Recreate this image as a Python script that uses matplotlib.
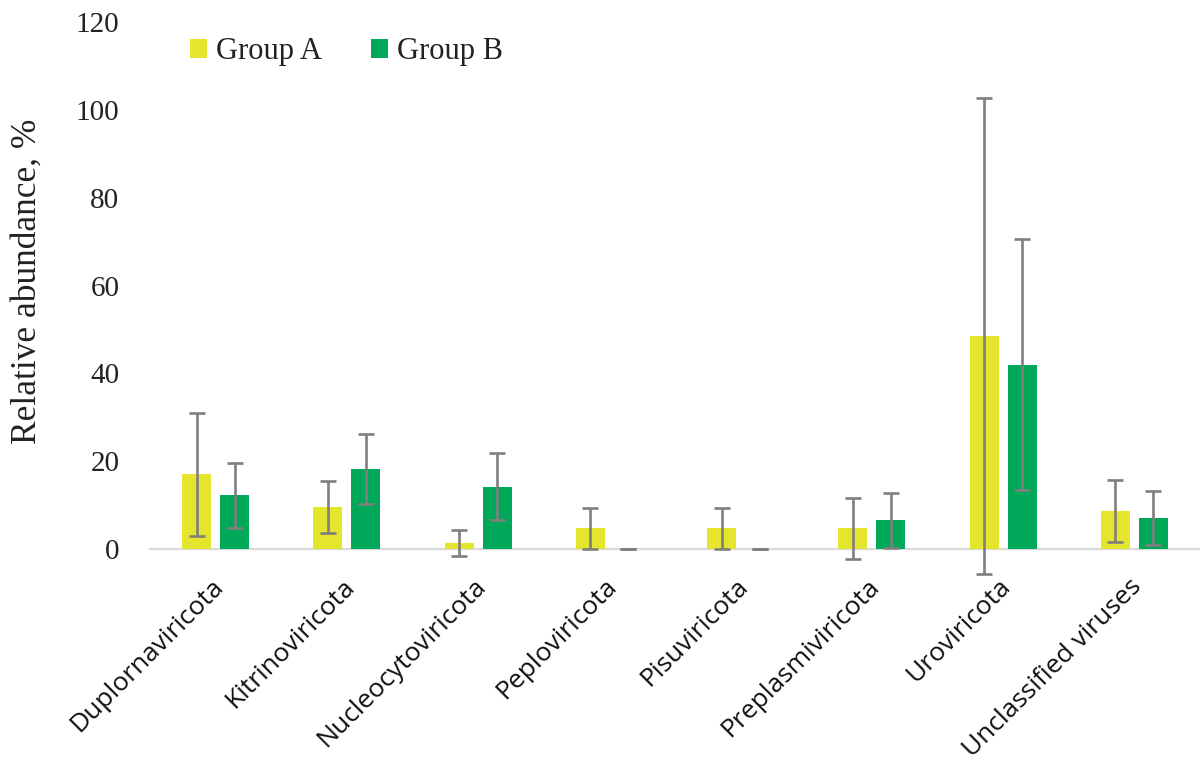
import matplotlib
matplotlib.use("Agg")
import matplotlib.pyplot as plt
import matplotlib.transforms as mtransforms
import numpy as np

phyla = ["Duplornaviricota", "Kitrinoviricota", "Nucleocytoviricota",
         "Peploviricota", "Pisuviricota", "Preplasmiviricota",
         "Uroviricota", "Unclassified viruses"]
group_a = [17.0, 9.6, 1.4, 4.7, 4.7, 4.7, 48.5, 8.7]
group_a_sd = [14.0, 6.0, 2.9, 4.6, 4.6, 7.0, 54.3, 7.0]
group_b = [12.2, 18.2, 14.2, 0.0, 0.0, 6.5, 42.0, 7.1]
group_b_sd = [7.4, 8.0, 7.6, 0.0, 0.0, 6.2, 28.6, 6.1]

YELLOW = "#E5E52D"
GREEN = "#00A859"
ERR = "#7F7F7F"
TXT = "#222222"

fig = plt.figure(figsize=(12, 7.6), dpi=100)
ax = fig.add_axes([0.125, 0.2776, 0.875, 0.6934])

x = np.arange(len(phyla))
w = 0.22
off = 0.145
err_kw = dict(fmt="none", ecolor=ERR, elinewidth=1.9, capsize=5.5,
              capthick=1.9, clip_on=False, zorder=3)

ax.bar(x - off, group_a, w, color=YELLOW, label="Group A", zorder=2)
ax.bar(x + off, group_b, w, color=GREEN, label="Group B", zorder=2)
ea = ax.errorbar(x - off, group_a, yerr=group_a_sd, **err_kw)
eb = ax.errorbar(x + off, group_b, yerr=group_b_sd, **err_kw)
# let the whiskers run below the zero line
for cont in (ea, eb):
    for art in cont.lines[1] + cont.lines[2]:
        art.set_clip_on(False)

ax.set_xlim(-0.5, 7.5)
ax.set_ylim(0, 120)
ax.set_yticks(range(0, 121, 20))
for s in ("top", "right", "left"):
    ax.spines[s].set_visible(False)
ax.spines["bottom"].set_color("#D9D9D9")
ax.spines["bottom"].set_linewidth(1.6)
ax.spines["bottom"].set_zorder(1)

ax.tick_params(axis="y", length=0, pad=22, labelsize=21)
ax.tick_params(axis="x", length=0, pad=18)
for t in ax.get_yticklabels():
    t.set_fontfamily("Liberation Serif")
    t.set_color(TXT)

ax.set_xticks(x)
ax.set_xticklabels(phyla, rotation=45, ha="right", rotation_mode="anchor",
                   fontsize=19, fontfamily="Open Sans", color="#111111")
shift = mtransforms.ScaledTranslation(-5 / 100, 0, fig.dpi_scale_trans)
for t in ax.get_xticklabels():
    t.set_transform(t.get_transform() + shift)

fig.text(27 / 1200, 1 - 281 / 760, "Relative abundance, %", rotation=90,
         ha="center", va="center", fontsize=25.5,
         fontfamily="Liberation Serif", color=TXT)

leg = ax.legend(loc="upper left", bbox_to_anchor=(0.012, 1.023), ncol=2,
                frameon=False, handlelength=0.55, handleheight=0.55,
                handletextpad=0.3, columnspacing=1.6,
                prop={"family": "Liberation Serif", "size": 22})
for t in leg.get_texts():
    t.set_color(TXT)

fig.savefig("out.png", dpi=100)
